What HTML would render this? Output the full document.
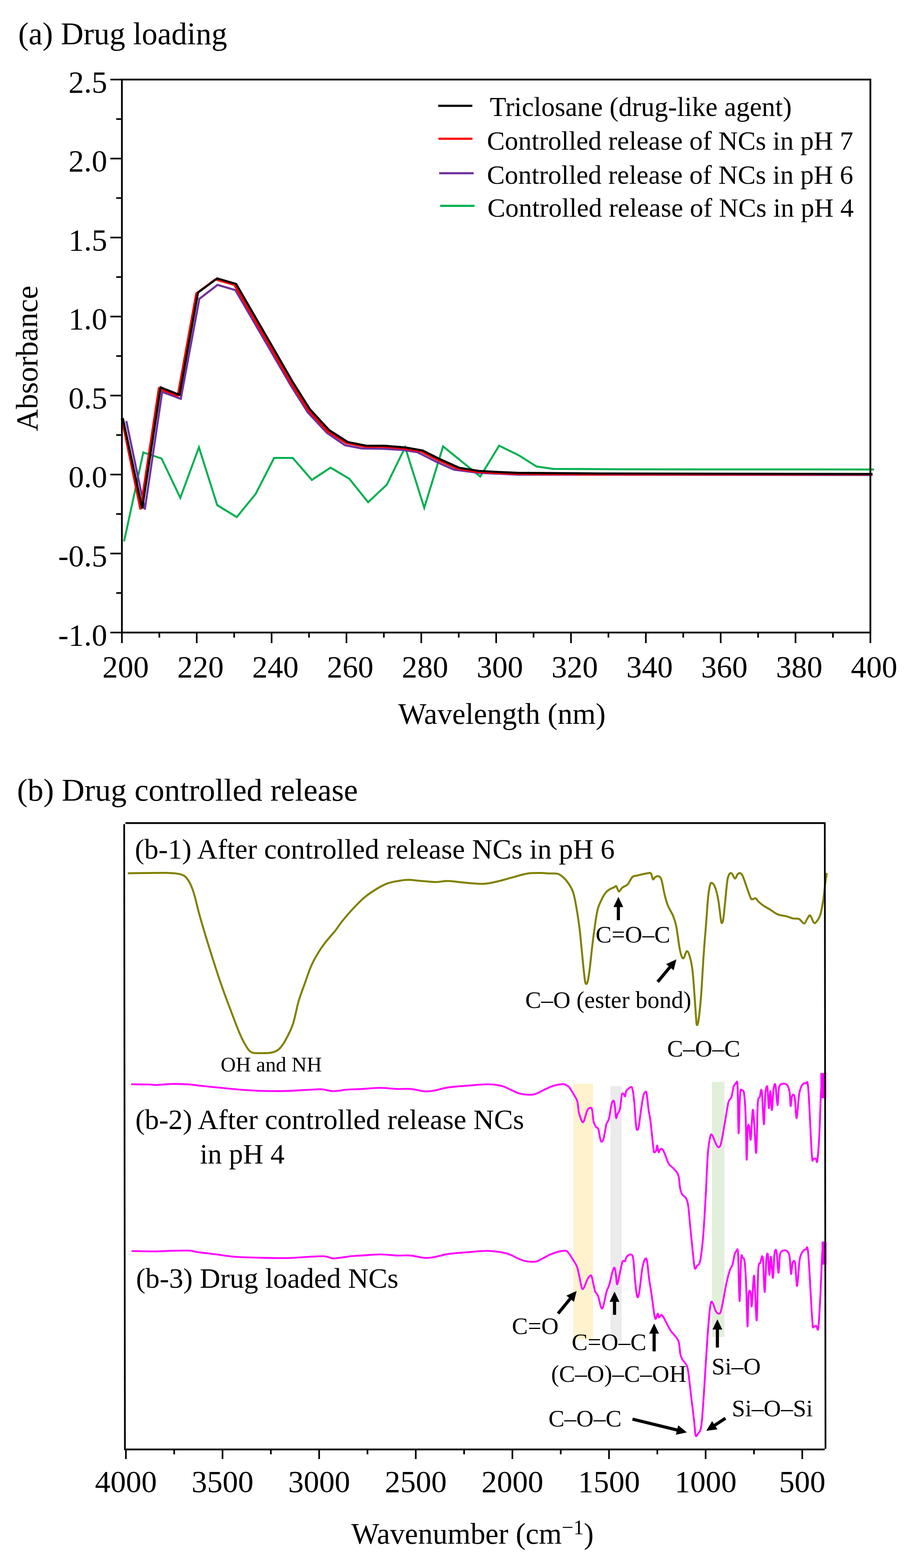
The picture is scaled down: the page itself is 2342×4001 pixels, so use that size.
<!DOCTYPE html><html><head><meta charset="utf-8"><style>html,body{margin:0;padding:0;background:#fff;}svg{display:block;}</style></head><body>
<svg width="2342" height="4001" viewBox="0 0 2342 4001" font-family="'Liberation Serif', 'Times New Roman', serif" fill="#000">
<rect width="2342" height="4001" fill="#fff"/>
<text x="46.4" y="113.0" font-size="80" text-anchor="start" >(a) Drug loading</text>
<polyline points="316.5,1381.5 365.6,1154.4 412.2,1170.0 460.0,1270.3 507.5,1141.5 554.2,1289.0 604.0,1319.5 652.5,1260.0 699.3,1168.6 746.8,1168.4 795.6,1224.6 843.2,1193.3 891.2,1221.7 939.2,1281.5 986.8,1236.8 1033.6,1141.2 1082.4,1295.8 1130.4,1139.0 1225.2,1216.0 1273.4,1137.2 1322.0,1161.0 1368.8,1190.3 1411.5,1196.4 1600.0,1197.5 2230.0,1198.0" fill="none" stroke="#00b050" stroke-width="5" stroke-linejoin="miter" />
<polyline points="322.2,1074.4 369.4,1300.0 413.7,1000.0 461.2,1017.6 508.5,762.6 555.0,727.0 600.5,740.3 742.0,984.0 785.0,1052.0 834.0,1104.6 880.0,1136.0 923.3,1144.3 975.5,1145.0 1026.2,1148.0 1064.9,1154.0 1115.8,1179.6 1158.1,1198.3 1221.6,1206.5 1320.0,1211.0 2226.0,1212.0" fill="none" stroke="#7030a0" stroke-width="5.3" stroke-linejoin="miter" />
<polyline points="310.6,1067.8 358.3,1300.0 405.2,991.0 453.3,1010.0 500.7,749.0 549.5,712.9 598.0,727.0 646.3,810.5 694.3,893.5 742.5,977.5 786.0,1046.5 835.3,1100.1 883.0,1130.5 929.2,1139.7 976.9,1139.9 1030.6,1144.3 1073.9,1152.0 1117.8,1174.0 1166.6,1196.0 1217.1,1204.1 1268.5,1207.0 1315.5,1209.0 1495.5,1210.5 2226.0,1210.5" fill="none" stroke="#ff0000" stroke-width="5.3" stroke-linejoin="miter" />
<polyline points="313.3,1066.7 362.8,1297.5 409.7,988.5 457.8,1007.5 505.2,746.5 554.0,710.4 602.5,724.5 650.8,808.0 698.8,891.0 747.0,975.0 790.5,1044.0 839.8,1097.6 887.5,1128.0 933.7,1137.2 981.4,1137.4 1035.1,1141.8 1078.4,1149.5 1122.3,1171.5 1171.1,1193.5 1221.6,1201.6 1273.0,1204.5 1320.0,1206.5 1500.0,1208.0 2226.0,1209.5" fill="none" stroke="#000000" stroke-width="5.3" stroke-linejoin="miter" />
<rect x="311" y="203" width="1909.5" height="1411" fill="none" stroke="#000" stroke-width="4.5"/>
<line x1="281.5" y1="203.0" x2="311.0" y2="203.0" stroke="#000" stroke-width="4.2" stroke-linecap="butt"/>
<text x="273.5" y="235.5" font-size="79" text-anchor="end" >2.5</text>
<line x1="296.5" y1="303.8" x2="311.0" y2="303.8" stroke="#000" stroke-width="4.2" stroke-linecap="butt"/>
<line x1="281.5" y1="404.6" x2="311.0" y2="404.6" stroke="#000" stroke-width="4.2" stroke-linecap="butt"/>
<text x="273.5" y="437.1" font-size="79" text-anchor="end" >2.0</text>
<line x1="296.5" y1="505.4" x2="311.0" y2="505.4" stroke="#000" stroke-width="4.2" stroke-linecap="butt"/>
<line x1="281.5" y1="606.1" x2="311.0" y2="606.1" stroke="#000" stroke-width="4.2" stroke-linecap="butt"/>
<text x="273.5" y="638.6" font-size="79" text-anchor="end" >1.5</text>
<line x1="296.5" y1="706.9" x2="311.0" y2="706.9" stroke="#000" stroke-width="4.2" stroke-linecap="butt"/>
<line x1="281.5" y1="807.7" x2="311.0" y2="807.7" stroke="#000" stroke-width="4.2" stroke-linecap="butt"/>
<text x="273.5" y="840.2" font-size="79" text-anchor="end" >1.0</text>
<line x1="296.5" y1="908.5" x2="311.0" y2="908.5" stroke="#000" stroke-width="4.2" stroke-linecap="butt"/>
<line x1="281.5" y1="1009.3" x2="311.0" y2="1009.3" stroke="#000" stroke-width="4.2" stroke-linecap="butt"/>
<text x="273.5" y="1041.8" font-size="79" text-anchor="end" >0.5</text>
<line x1="296.5" y1="1110.1" x2="311.0" y2="1110.1" stroke="#000" stroke-width="4.2" stroke-linecap="butt"/>
<line x1="281.5" y1="1210.9" x2="311.0" y2="1210.9" stroke="#000" stroke-width="4.2" stroke-linecap="butt"/>
<text x="273.5" y="1243.4" font-size="79" text-anchor="end" >0.0</text>
<line x1="296.5" y1="1311.6" x2="311.0" y2="1311.6" stroke="#000" stroke-width="4.2" stroke-linecap="butt"/>
<line x1="281.5" y1="1412.4" x2="311.0" y2="1412.4" stroke="#000" stroke-width="4.2" stroke-linecap="butt"/>
<text x="273.5" y="1444.9" font-size="79" text-anchor="end" >-0.5</text>
<line x1="296.5" y1="1513.2" x2="311.0" y2="1513.2" stroke="#000" stroke-width="4.2" stroke-linecap="butt"/>
<line x1="281.5" y1="1614.0" x2="311.0" y2="1614.0" stroke="#000" stroke-width="4.2" stroke-linecap="butt"/>
<text x="273.5" y="1646.5" font-size="79" text-anchor="end" >-1.0</text>
<line x1="311.0" y1="1614.0" x2="311.0" y2="1641.0" stroke="#000" stroke-width="4.2" stroke-linecap="butt"/>
<text x="320.5" y="1728.0" font-size="79" text-anchor="middle" >200</text>
<line x1="406.5" y1="1614.0" x2="406.5" y2="1627.0" stroke="#000" stroke-width="4.2" stroke-linecap="butt"/>
<line x1="501.9" y1="1614.0" x2="501.9" y2="1641.0" stroke="#000" stroke-width="4.2" stroke-linecap="butt"/>
<text x="511.4" y="1728.0" font-size="79" text-anchor="middle" >220</text>
<line x1="597.4" y1="1614.0" x2="597.4" y2="1627.0" stroke="#000" stroke-width="4.2" stroke-linecap="butt"/>
<line x1="692.9" y1="1614.0" x2="692.9" y2="1641.0" stroke="#000" stroke-width="4.2" stroke-linecap="butt"/>
<text x="702.4" y="1728.0" font-size="79" text-anchor="middle" >240</text>
<line x1="788.4" y1="1614.0" x2="788.4" y2="1627.0" stroke="#000" stroke-width="4.2" stroke-linecap="butt"/>
<line x1="883.9" y1="1614.0" x2="883.9" y2="1641.0" stroke="#000" stroke-width="4.2" stroke-linecap="butt"/>
<text x="893.4" y="1728.0" font-size="79" text-anchor="middle" >260</text>
<line x1="979.3" y1="1614.0" x2="979.3" y2="1627.0" stroke="#000" stroke-width="4.2" stroke-linecap="butt"/>
<line x1="1074.8" y1="1614.0" x2="1074.8" y2="1641.0" stroke="#000" stroke-width="4.2" stroke-linecap="butt"/>
<text x="1084.3" y="1728.0" font-size="79" text-anchor="middle" >280</text>
<line x1="1170.3" y1="1614.0" x2="1170.3" y2="1627.0" stroke="#000" stroke-width="4.2" stroke-linecap="butt"/>
<line x1="1265.8" y1="1614.0" x2="1265.8" y2="1641.0" stroke="#000" stroke-width="4.2" stroke-linecap="butt"/>
<text x="1275.2" y="1728.0" font-size="79" text-anchor="middle" >300</text>
<line x1="1361.2" y1="1614.0" x2="1361.2" y2="1627.0" stroke="#000" stroke-width="4.2" stroke-linecap="butt"/>
<line x1="1456.7" y1="1614.0" x2="1456.7" y2="1641.0" stroke="#000" stroke-width="4.2" stroke-linecap="butt"/>
<text x="1466.2" y="1728.0" font-size="79" text-anchor="middle" >320</text>
<line x1="1552.2" y1="1614.0" x2="1552.2" y2="1627.0" stroke="#000" stroke-width="4.2" stroke-linecap="butt"/>
<line x1="1647.7" y1="1614.0" x2="1647.7" y2="1641.0" stroke="#000" stroke-width="4.2" stroke-linecap="butt"/>
<text x="1657.2" y="1728.0" font-size="79" text-anchor="middle" >340</text>
<line x1="1743.1" y1="1614.0" x2="1743.1" y2="1627.0" stroke="#000" stroke-width="4.2" stroke-linecap="butt"/>
<line x1="1838.6" y1="1614.0" x2="1838.6" y2="1641.0" stroke="#000" stroke-width="4.2" stroke-linecap="butt"/>
<text x="1848.1" y="1728.0" font-size="79" text-anchor="middle" >360</text>
<line x1="1934.1" y1="1614.0" x2="1934.1" y2="1627.0" stroke="#000" stroke-width="4.2" stroke-linecap="butt"/>
<line x1="2029.5" y1="1614.0" x2="2029.5" y2="1641.0" stroke="#000" stroke-width="4.2" stroke-linecap="butt"/>
<text x="2039.0" y="1728.0" font-size="79" text-anchor="middle" >380</text>
<line x1="2125.0" y1="1614.0" x2="2125.0" y2="1627.0" stroke="#000" stroke-width="4.2" stroke-linecap="butt"/>
<line x1="2220.5" y1="1614.0" x2="2220.5" y2="1641.0" stroke="#000" stroke-width="4.2" stroke-linecap="butt"/>
<text x="2230.0" y="1728.0" font-size="79" text-anchor="middle" >400</text>
<text x="0.0" y="0.0" font-size="77.8" text-anchor="middle" transform="translate(95,914.5) rotate(-90)">Absorbance</text>
<text x="1280.6" y="1847.3" font-size="76.2" text-anchor="middle" >Wavelength (nm)</text>
<line x1="1118.0" y1="270.1" x2="1205.0" y2="270.1" stroke="#000000" stroke-width="5.5" stroke-linecap="butt"/>
<text x="1249.5" y="296.4" font-size="68.9" text-anchor="start" >Triclosane (drug-like agent)</text>
<line x1="1118.4" y1="353.9" x2="1205.2" y2="353.9" stroke="#ff0000" stroke-width="5.5" stroke-linecap="butt"/>
<text x="1242.2" y="381.9" font-size="68.4" text-anchor="start" >Controlled release of NCs in pH 7</text>
<line x1="1120.3" y1="442.0" x2="1208.5" y2="442.0" stroke="#7030a0" stroke-width="5.5" stroke-linecap="butt"/>
<text x="1242.2" y="469.2" font-size="68.4" text-anchor="start" >Controlled release of NCs in pH 6</text>
<line x1="1123.0" y1="525.3" x2="1210.6" y2="525.3" stroke="#00b050" stroke-width="5.5" stroke-linecap="butt"/>
<text x="1243.5" y="553.2" font-size="68.4" text-anchor="start" >Controlled release of NCs in pH 4</text>
<text x="43.6" y="2043.0" font-size="80.5" text-anchor="start" >(b) Drug controlled release</text>
<rect x="1462.5" y="2765.5" width="50.5" height="652" fill="#fff2cc"/>
<rect x="1557.5" y="2771.5" width="28.5" height="649.5" fill="#ebebeb"/>
<rect x="1816.5" y="2760.5" width="31.7" height="651" fill="#e2efda"/>
<path d="M326.1,2228.3 C341.8,2228.1 398.6,2227.1 420.0,2227.3 C441.4,2227.5 446.2,2228.2 454.6,2229.6 C463.1,2230.9 466.1,2232.1 470.7,2235.4 C475.3,2238.7 478.7,2243.4 482.2,2249.2 C485.7,2255.0 488.8,2262.7 491.5,2270.0 C494.2,2277.3 495.7,2283.0 498.4,2293.0 C501.1,2303.0 503.4,2314.5 507.6,2329.9 C511.8,2345.3 517.6,2364.8 523.7,2385.2 C529.9,2405.5 537.2,2429.3 544.5,2452.0 C551.8,2474.7 559.8,2499.3 567.5,2521.2 C575.2,2543.1 583.3,2564.2 590.6,2583.4 C597.9,2602.6 605.1,2622.3 611.3,2636.5 C617.4,2650.7 622.5,2660.6 627.5,2668.7 C632.5,2676.8 635.5,2681.8 641.3,2684.9 C647.0,2688.0 653.5,2687.0 662.0,2687.2 C670.5,2687.4 683.9,2687.5 692.0,2686.0 C700.1,2684.5 704.7,2682.8 710.5,2678.0 C716.3,2673.2 720.5,2668.0 726.6,2657.2 C732.7,2646.4 741.5,2630.4 747.3,2613.4 C753.1,2596.4 756.3,2573.4 761.6,2555.4 C766.9,2537.4 773.6,2520.8 779.0,2505.6 C784.4,2490.4 788.7,2476.6 794.1,2464.3 C799.5,2452.0 805.4,2441.9 811.5,2431.8 C817.6,2421.7 823.8,2413.0 831.0,2403.6 C838.2,2394.2 848.0,2384.1 854.9,2375.4 C861.8,2366.7 865.1,2360.6 872.3,2351.5 C879.5,2342.4 888.9,2331.2 898.3,2321.1 C907.7,2311.0 918.2,2299.7 928.7,2290.8 C939.2,2282.0 951.1,2274.2 961.2,2268.0 C971.3,2261.8 980.1,2257.3 989.4,2253.9 C998.7,2250.5 1008.4,2249.2 1017.1,2247.7 C1025.8,2246.2 1032.1,2245.0 1041.4,2245.0 C1050.7,2245.0 1061.5,2246.8 1073.0,2247.7 C1084.5,2248.6 1098.5,2250.6 1110.3,2250.7 C1122.1,2250.8 1130.9,2247.7 1143.9,2248.0 C1157.0,2248.3 1173.7,2251.3 1188.6,2252.5 C1203.5,2253.7 1219.7,2255.8 1233.4,2255.2 C1247.1,2254.6 1258.3,2251.6 1270.7,2248.8 C1283.1,2246.1 1295.6,2242.0 1308.0,2238.7 C1320.4,2235.4 1333.5,2230.8 1345.3,2229.0 C1357.1,2227.2 1369.7,2227.6 1378.8,2227.6 C1387.9,2227.6 1392.8,2228.5 1400.0,2228.8 C1407.2,2229.1 1415.8,2228.0 1421.7,2229.4 C1427.6,2230.8 1430.3,2232.6 1435.3,2237.0 C1440.3,2241.4 1447.0,2249.2 1451.5,2256.0 C1456.0,2262.8 1459.2,2267.7 1462.4,2277.6 C1465.6,2287.5 1467.8,2300.2 1470.5,2315.6 C1473.2,2331.0 1476.3,2351.7 1478.6,2369.8 C1480.9,2387.9 1482.3,2405.9 1484.1,2424.0 C1485.9,2442.1 1487.9,2464.3 1489.5,2478.3 C1491.1,2492.3 1492.0,2503.6 1493.6,2508.1 C1495.2,2512.6 1497.2,2511.3 1499.0,2505.4 C1500.8,2499.5 1502.6,2486.5 1504.4,2472.9 C1506.2,2459.3 1507.8,2441.2 1509.8,2424.0 C1511.8,2406.8 1514.1,2387.0 1516.6,2369.8 C1519.1,2352.6 1521.5,2333.7 1524.7,2321.0 C1527.9,2308.3 1532.0,2301.3 1535.6,2293.9 C1539.2,2286.5 1542.8,2280.6 1546.4,2276.3 C1550.0,2272.0 1553.9,2270.2 1557.3,2268.1 C1560.7,2266.0 1564.3,2265.1 1566.8,2264.0 C1569.3,2262.9 1570.2,2259.6 1572.2,2261.4 C1574.2,2263.2 1576.5,2274.2 1579.0,2274.9 C1581.5,2275.6 1583.5,2268.3 1587.1,2265.4 C1590.7,2262.5 1597.5,2260.0 1600.7,2257.3 C1603.9,2254.6 1603.8,2252.6 1606.1,2249.2 C1608.3,2245.8 1611.0,2239.5 1614.2,2237.0 C1617.4,2234.5 1621.5,2235.1 1625.1,2234.2 C1628.7,2233.3 1631.8,2232.4 1635.9,2231.5 C1640.0,2230.6 1645.4,2229.3 1649.5,2228.8 C1653.6,2228.3 1657.6,2225.8 1660.3,2228.3 C1663.0,2230.8 1664.0,2242.0 1665.8,2243.7 C1667.6,2245.4 1669.0,2239.7 1671.2,2238.3 C1673.5,2237.0 1676.6,2234.5 1679.3,2235.6 C1682.0,2236.7 1684.8,2237.2 1687.5,2245.1 C1690.2,2253.0 1692.9,2272.2 1695.6,2283.0 C1698.3,2293.8 1700.1,2301.1 1703.7,2310.2 C1707.3,2319.2 1713.7,2328.3 1717.3,2337.3 C1720.9,2346.3 1722.7,2350.9 1725.4,2364.4 C1728.1,2377.9 1731.3,2405.9 1733.6,2418.6 C1735.9,2431.2 1737.2,2436.0 1739.0,2440.3 C1740.8,2444.6 1742.2,2446.6 1744.4,2444.4 C1746.7,2442.2 1749.8,2427.3 1752.5,2427.0 C1755.2,2426.7 1757.9,2434.6 1760.3,2442.8 C1762.7,2451.0 1764.8,2460.0 1766.7,2476.3 C1768.6,2492.6 1770.4,2520.5 1771.9,2540.7 C1773.4,2560.9 1774.8,2584.9 1775.8,2597.4 C1776.8,2609.9 1776.7,2614.6 1777.8,2615.4 C1778.9,2616.2 1780.4,2614.9 1782.2,2602.5 C1784.0,2590.1 1786.4,2568.2 1788.6,2540.7 C1790.8,2513.2 1792.9,2468.5 1795.1,2437.6 C1797.2,2406.7 1799.6,2380.1 1801.5,2355.2 C1803.4,2330.3 1805.0,2304.5 1806.7,2288.2 C1808.4,2271.9 1810.1,2263.1 1811.8,2257.3 C1813.5,2251.5 1814.8,2252.1 1817.0,2253.4 C1819.2,2254.7 1822.1,2257.9 1824.7,2265.0 C1827.3,2272.1 1830.0,2282.6 1832.4,2295.9 C1834.8,2309.2 1837.4,2335.0 1838.9,2344.9 C1840.4,2354.8 1840.4,2355.2 1841.5,2355.2 C1842.6,2355.2 1843.8,2354.8 1845.3,2344.9 C1846.8,2335.0 1848.8,2312.2 1850.5,2295.9 C1852.2,2279.6 1853.9,2257.9 1855.6,2247.0 C1857.3,2236.1 1858.9,2233.2 1860.8,2230.2 C1862.7,2227.2 1864.8,2227.1 1867.2,2229.0 C1869.6,2230.9 1872.6,2241.4 1875.0,2241.8 C1877.4,2242.2 1879.5,2233.8 1881.4,2231.5 C1883.3,2229.2 1884.3,2227.3 1886.5,2227.7 C1888.7,2228.1 1891.3,2228.3 1894.3,2234.1 C1897.3,2239.9 1901.2,2252.9 1904.6,2262.4 C1908.0,2271.9 1912.3,2285.4 1914.9,2290.8 C1917.5,2296.2 1917.8,2294.4 1920.0,2294.6 C1922.2,2294.8 1925.2,2291.0 1927.8,2292.1 C1930.4,2293.2 1932.1,2297.8 1935.5,2301.0 C1938.9,2304.2 1943.7,2308.2 1948.4,2311.4 C1953.1,2314.6 1957.8,2316.8 1963.8,2320.4 C1969.8,2324.1 1977.1,2330.3 1984.4,2333.3 C1991.7,2336.3 2001.1,2336.7 2007.6,2338.4 C2014.0,2340.1 2017.9,2342.5 2023.1,2343.6 C2028.2,2344.7 2033.8,2342.8 2038.5,2344.9 C2043.2,2347.1 2048.0,2356.5 2051.4,2356.5 C2054.8,2356.5 2056.6,2348.3 2059.2,2344.9 C2061.8,2341.5 2064.1,2334.4 2066.9,2335.9 C2069.7,2337.4 2073.3,2351.1 2075.9,2353.9 C2078.5,2356.7 2079.5,2355.8 2082.3,2352.6 C2085.1,2349.4 2089.6,2344.0 2092.6,2334.6 C2095.6,2325.2 2098.2,2309.7 2100.4,2295.9 C2102.6,2282.2 2104.0,2263.5 2105.5,2252.1 C2107.0,2240.7 2108.8,2231.8 2109.4,2227.7" fill="none" stroke="#808000" stroke-width="5" stroke-linejoin="round" />
<path d="M334.6,2766.8 C342.4,2766.9 370.9,2767.0 381.4,2767.3 C391.9,2767.6 388.8,2768.7 397.6,2768.5 C406.4,2768.3 420.6,2766.3 434.2,2766.0 C447.8,2765.7 466.1,2766.1 479.0,2766.8 C491.9,2767.6 497.3,2769.0 511.5,2770.5 C525.7,2772.0 546.8,2774.1 564.4,2775.8 C582.0,2777.5 600.3,2779.4 617.3,2780.7 C634.2,2782.0 647.8,2783.0 666.1,2783.5 C684.4,2784.0 706.8,2784.4 727.1,2783.9 C747.4,2783.4 772.5,2781.4 788.1,2780.7 C803.7,2780.0 810.9,2778.9 820.7,2779.5 C830.5,2780.1 839.0,2783.5 847.1,2784.0 C855.2,2784.5 864.0,2783.2 869.5,2782.7 C875.0,2782.1 870.8,2781.4 880.0,2780.7 C889.2,2780.0 909.8,2779.4 924.7,2778.6 C939.6,2777.8 955.2,2775.8 969.5,2775.8 C983.8,2775.8 997.3,2778.1 1010.2,2778.6 C1023.1,2779.1 1034.6,2777.6 1046.8,2778.6 C1059.0,2779.6 1073.2,2784.0 1083.4,2784.7 C1093.6,2785.4 1097.6,2784.4 1107.8,2782.7 C1118.0,2781.0 1130.8,2776.6 1144.4,2774.6 C1158.0,2772.6 1172.9,2771.8 1189.2,2770.5 C1205.5,2769.2 1227.1,2766.8 1242.0,2766.8 C1256.9,2766.8 1268.4,2768.2 1278.6,2770.5 C1288.8,2772.8 1294.8,2777.3 1303.0,2780.7 C1311.2,2784.1 1318.0,2788.8 1327.5,2790.8 C1337.0,2792.8 1350.5,2794.2 1360.0,2792.9 C1369.5,2791.6 1376.3,2786.2 1384.4,2782.7 C1392.5,2779.2 1400.3,2774.4 1408.8,2771.7 C1417.3,2769.0 1428.8,2766.6 1435.3,2766.4 C1441.8,2766.2 1444.7,2769.2 1447.5,2770.5 C1450.3,2771.8 1449.4,2770.3 1452.2,2774.2 C1455.0,2778.1 1460.9,2787.6 1464.4,2793.7 C1467.9,2799.8 1471.0,2803.5 1473.0,2810.8 C1475.0,2818.1 1475.0,2829.9 1476.6,2837.6 C1478.2,2845.3 1481.1,2852.9 1482.7,2857.2 C1484.3,2861.5 1485.2,2862.9 1486.4,2863.3 C1487.6,2863.7 1488.0,2864.7 1490.0,2859.6 C1492.0,2854.5 1495.8,2838.2 1498.6,2832.7 C1501.4,2827.2 1505.1,2826.6 1507.1,2826.6 C1509.1,2826.6 1509.6,2826.8 1510.8,2832.7 C1512.0,2838.6 1512.8,2854.9 1514.4,2862.0 C1516.0,2869.1 1518.5,2872.2 1520.5,2875.5 C1522.5,2878.8 1524.6,2875.7 1526.6,2881.6 C1528.6,2887.5 1530.7,2906.4 1532.7,2910.9 C1534.8,2915.4 1536.9,2913.7 1538.9,2908.4 C1541.0,2903.1 1543.6,2886.0 1545.0,2879.1 C1546.4,2872.2 1546.0,2871.0 1547.4,2866.9 C1548.8,2862.8 1551.5,2862.4 1553.5,2854.7 C1555.5,2847.0 1557.8,2828.2 1559.6,2820.5 C1561.4,2812.8 1563.1,2808.7 1564.5,2808.3 C1565.9,2807.9 1566.9,2810.8 1568.1,2818.1 C1569.3,2825.4 1570.6,2848.2 1571.8,2852.3 C1573.0,2856.4 1573.9,2846.2 1575.5,2842.5 C1577.1,2838.8 1579.8,2838.4 1581.6,2830.3 C1583.4,2822.2 1584.8,2800.2 1586.4,2793.7 C1588.0,2787.2 1589.9,2790.7 1591.3,2791.3 C1592.7,2791.9 1594.0,2798.6 1595.0,2797.4 C1596.0,2796.2 1596.2,2787.0 1597.4,2783.9 C1598.6,2780.8 1600.5,2780.6 1602.3,2779.0 C1604.1,2777.4 1606.6,2774.4 1608.4,2774.2 C1610.2,2774.0 1611.7,2771.3 1613.3,2777.8 C1614.9,2784.3 1616.8,2799.2 1618.2,2813.2 C1619.6,2827.2 1620.8,2850.6 1621.8,2862.0 C1622.8,2873.4 1623.1,2879.2 1624.3,2881.6 C1625.5,2884.0 1627.4,2884.8 1629.2,2876.7 C1631.0,2868.5 1633.3,2846.1 1635.3,2832.7 C1637.3,2819.3 1639.6,2803.8 1641.4,2796.1 C1643.2,2788.4 1644.8,2787.2 1646.2,2786.4 C1647.6,2785.6 1648.5,2783.6 1649.9,2791.3 C1651.3,2799.0 1653.2,2820.9 1654.8,2832.7 C1656.4,2844.5 1657.7,2845.7 1659.7,2862.0 C1661.7,2878.3 1665.4,2917.4 1667.0,2930.4 C1668.6,2943.4 1668.2,2939.3 1669.4,2940.1 C1670.6,2940.9 1673.1,2938.2 1674.3,2935.3 C1675.5,2932.5 1675.8,2922.2 1676.8,2923.0 C1677.8,2923.8 1679.2,2938.5 1680.4,2940.1 C1681.6,2941.7 1682.5,2934.0 1684.1,2932.8 C1685.7,2931.6 1688.2,2930.8 1690.2,2932.8 C1692.2,2934.8 1693.7,2938.9 1696.3,2945.0 C1698.9,2951.1 1702.3,2963.3 1706.0,2969.4 C1709.7,2975.5 1714.2,2976.7 1718.3,2981.6 C1722.4,2986.5 1727.7,2990.1 1730.5,2998.7 C1733.3,3007.2 1733.7,3024.8 1735.3,3032.9 C1736.9,3041.0 1737.8,3043.4 1740.2,3047.5 C1742.7,3051.6 1747.5,3052.7 1750.0,3057.3 C1752.5,3061.9 1753.7,3063.5 1755.5,3075.0 C1757.3,3086.5 1758.9,3109.2 1760.6,3126.4 C1762.3,3143.6 1763.9,3160.0 1765.8,3178.0 C1767.7,3196.0 1770.1,3226.0 1772.2,3234.6 C1774.3,3243.2 1776.2,3232.5 1778.6,3229.5 C1781.0,3226.5 1783.8,3229.5 1786.4,3216.6 C1789.0,3203.7 1791.8,3180.1 1794.1,3152.2 C1796.4,3124.3 1798.6,3083.5 1800.5,3049.2 C1802.4,3014.8 1803.8,2971.0 1805.7,2946.1 C1807.6,2921.2 1810.2,2907.8 1812.1,2899.7 C1814.0,2891.5 1815.1,2894.6 1817.3,2897.2 C1819.5,2899.8 1822.6,2910.3 1825.0,2915.2 C1827.4,2920.1 1829.3,2925.5 1831.5,2926.8 C1833.7,2928.1 1836.0,2927.4 1837.9,2922.9 C1839.8,2918.4 1840.9,2910.9 1843.1,2899.7 C1845.2,2888.5 1848.2,2870.5 1850.8,2855.9 C1853.4,2841.3 1855.9,2821.5 1858.5,2812.1 C1861.1,2802.7 1864.0,2805.7 1866.2,2799.3 C1868.4,2792.9 1869.7,2779.1 1871.4,2773.5 C1873.1,2767.9 1874.8,2766.2 1876.5,2765.8 C1878.2,2765.4 1880.4,2749.9 1881.7,2770.9 C1883.0,2791.9 1883.2,2888.6 1884.3,2892.0 C1885.4,2895.4 1886.6,2809.8 1888.1,2791.5 C1889.6,2773.2 1891.6,2782.5 1893.3,2782.5 C1895.0,2782.5 1896.9,2780.6 1898.4,2791.5 C1899.9,2802.4 1901.2,2820.3 1902.3,2848.2 C1903.4,2876.1 1904.0,2953.8 1904.9,2959.0 C1905.8,2964.2 1906.4,2893.3 1907.5,2879.1 C1908.6,2864.9 1910.0,2869.3 1911.3,2874.0 C1912.6,2878.7 1913.7,2914.4 1915.2,2907.5 C1916.7,2900.6 1918.8,2839.1 1920.3,2832.7 C1921.8,2826.2 1922.7,2850.8 1924.2,2868.8 C1925.7,2886.9 1927.9,2949.6 1929.4,2941.0 C1930.9,2932.4 1931.7,2840.9 1933.2,2817.3 C1934.7,2793.7 1936.7,2804.9 1938.4,2799.3 C1940.1,2793.7 1941.8,2772.2 1943.5,2783.8 C1945.2,2795.4 1947.2,2867.5 1948.7,2868.8 C1950.2,2870.1 1951.0,2807.4 1952.5,2791.5 C1954.0,2775.6 1956.2,2767.5 1957.7,2773.5 C1959.2,2779.5 1960.3,2825.9 1961.6,2827.6 C1962.9,2829.3 1964.1,2783.0 1965.4,2783.8 C1966.7,2784.7 1968.0,2833.1 1969.3,2832.7 C1970.6,2832.3 1971.7,2791.9 1973.2,2781.2 C1974.7,2770.5 1976.6,2761.9 1978.3,2768.3 C1980.0,2774.8 1982.0,2818.6 1983.5,2819.9 C1985.0,2821.2 1985.4,2785.1 1987.3,2776.1 C1989.2,2767.1 1991.7,2767.1 1995.1,2765.8 C1998.5,2764.5 2004.7,2764.9 2007.9,2768.3 C2011.1,2771.7 2012.9,2777.4 2014.4,2786.4 C2015.9,2795.4 2015.9,2820.7 2017.0,2822.4 C2018.1,2824.1 2019.1,2800.5 2020.8,2796.7 C2022.5,2792.8 2025.4,2789.9 2027.3,2799.3 C2029.2,2808.8 2030.5,2854.7 2032.4,2853.4 C2034.3,2852.1 2036.5,2805.7 2038.9,2791.5 C2041.3,2777.3 2043.8,2772.8 2046.6,2768.3 C2049.4,2763.8 2053.0,2762.8 2055.6,2764.5 C2058.2,2766.2 2059.5,2748.3 2062.1,2778.6 C2064.7,2808.9 2069.0,2916.5 2071.1,2946.1 C2073.2,2975.7 2073.2,2954.7 2074.9,2956.4 C2076.6,2958.1 2079.7,2955.5 2081.4,2956.4 C2083.1,2957.3 2083.7,2971.9 2085.2,2961.6 C2086.7,2951.3 2088.9,2922.9 2090.4,2894.6 C2091.9,2866.2 2092.9,2816.4 2094.2,2791.5 C2095.5,2766.6 2097.4,2752.9 2098.1,2745.2" fill="none" stroke="#ff00ff" stroke-width="4.6" stroke-linejoin="round" />
<path d="M335.8,3192.3 C346.1,3192.4 380.5,3193.2 397.6,3193.1 C414.7,3193.0 424.1,3191.8 438.3,3191.5 C452.5,3191.2 472.1,3190.6 483.0,3191.1 C493.9,3191.6 491.9,3193.1 503.4,3194.7 C514.9,3196.3 535.9,3198.8 552.2,3200.8 C568.5,3202.9 582.0,3205.6 601.0,3207.0 C620.0,3208.4 644.4,3208.9 666.1,3209.4 C687.8,3209.9 710.9,3210.6 731.2,3210.2 C751.5,3209.8 771.8,3207.8 788.1,3207.0 C804.4,3206.2 818.6,3205.0 828.8,3205.7 C839.0,3206.4 842.4,3210.4 849.2,3211.0 C856.0,3211.6 861.0,3210.0 869.5,3209.0 C878.0,3208.0 890.8,3205.9 900.0,3205.0 C909.2,3204.1 913.1,3204.3 924.7,3203.6 C936.3,3202.9 955.2,3200.8 969.5,3200.8 C983.8,3200.8 997.3,3203.1 1010.2,3203.6 C1023.1,3204.1 1034.6,3202.6 1046.8,3203.6 C1059.0,3204.6 1073.2,3209.0 1083.4,3209.7 C1093.6,3210.4 1097.6,3209.4 1107.8,3207.7 C1118.0,3206.0 1130.8,3201.6 1144.4,3199.6 C1158.0,3197.6 1172.9,3196.8 1189.2,3195.5 C1205.5,3194.2 1227.1,3191.8 1242.0,3191.8 C1256.9,3191.8 1268.9,3194.0 1278.6,3195.5 C1288.3,3197.0 1290.8,3197.4 1300.0,3200.8 C1309.2,3204.2 1323.2,3213.0 1333.9,3216.1 C1344.6,3219.2 1355.9,3220.3 1364.4,3219.5 C1372.9,3218.7 1377.4,3214.4 1384.7,3211.0 C1392.0,3207.6 1399.5,3202.5 1408.5,3199.2 C1417.5,3195.9 1432.2,3192.0 1439.0,3191.4 C1445.8,3190.8 1444.7,3190.8 1449.2,3195.8 C1453.7,3200.8 1462.1,3214.7 1466.1,3221.2 C1470.0,3227.7 1470.6,3227.3 1472.9,3234.7 C1475.2,3242.0 1477.7,3256.5 1479.7,3265.3 C1481.7,3274.1 1483.0,3283.9 1484.7,3287.3 C1486.4,3290.7 1487.2,3289.8 1489.8,3285.6 C1492.3,3281.4 1496.9,3267.0 1500.0,3261.9 C1503.1,3256.8 1506.2,3252.8 1508.5,3255.1 C1510.8,3257.3 1511.9,3268.6 1513.6,3275.4 C1515.3,3282.2 1516.6,3290.7 1518.6,3295.8 C1520.6,3300.9 1522.9,3299.1 1525.4,3305.9 C1528.0,3312.7 1531.6,3331.9 1533.9,3336.4 C1536.2,3340.9 1536.7,3339.8 1539.0,3333.0 C1541.3,3326.2 1545.0,3304.8 1547.5,3295.8 C1550.0,3286.8 1551.7,3287.3 1554.2,3278.8 C1556.7,3270.3 1560.4,3252.2 1562.7,3244.9 C1565.0,3237.6 1566.4,3233.6 1567.8,3234.7 C1569.2,3235.8 1570.1,3244.6 1571.2,3251.7 C1572.3,3258.8 1572.9,3277.7 1574.6,3277.1 C1576.3,3276.5 1579.2,3257.9 1581.4,3248.3 C1583.7,3238.7 1585.8,3224.6 1588.1,3219.5 C1590.3,3214.4 1593.2,3219.8 1594.9,3217.8 C1596.6,3215.8 1596.0,3210.4 1598.3,3207.6 C1600.6,3204.8 1605.7,3200.2 1608.5,3200.8 C1611.3,3201.4 1613.3,3199.7 1615.3,3211.0 C1617.3,3222.3 1618.6,3252.5 1620.3,3268.6 C1622.0,3284.7 1623.7,3302.5 1625.4,3307.6 C1627.1,3312.7 1628.2,3311.3 1630.5,3299.2 C1632.8,3287.0 1636.5,3249.1 1639.0,3234.7 C1641.5,3220.3 1643.8,3215.5 1645.8,3212.7 C1647.8,3209.9 1649.1,3209.6 1650.8,3217.8 C1652.5,3226.0 1653.9,3247.2 1655.9,3261.9 C1657.9,3276.6 1660.2,3289.0 1662.7,3305.9 C1665.2,3322.8 1668.7,3356.0 1671.2,3363.6 C1673.8,3371.2 1676.3,3352.0 1678.0,3351.7 C1679.7,3351.4 1679.4,3361.1 1681.4,3361.9 C1683.4,3362.8 1685.0,3351.4 1689.8,3356.8 C1694.6,3362.2 1703.4,3383.4 1710.2,3394.1 C1717.0,3404.8 1726.3,3411.0 1730.5,3421.2 C1734.7,3431.4 1733.9,3447.2 1735.6,3455.1 C1737.3,3463.0 1738.2,3464.1 1740.7,3468.6 C1743.2,3473.1 1748.3,3477.3 1750.8,3482.2 C1753.3,3487.1 1753.4,3484.5 1755.5,3497.8 C1757.6,3511.1 1760.6,3540.7 1763.2,3562.2 C1765.8,3583.7 1769.0,3609.8 1770.9,3626.6 C1772.8,3643.3 1773.1,3657.5 1774.8,3662.7 C1776.5,3667.8 1778.8,3661.4 1781.2,3657.5 C1783.6,3653.6 1786.6,3655.4 1789.0,3639.5 C1791.4,3623.6 1793.3,3592.2 1795.4,3562.2 C1797.5,3532.1 1799.7,3491.4 1801.8,3459.2 C1803.9,3427.0 1806.4,3391.3 1808.3,3369.0 C1810.2,3346.7 1811.7,3332.5 1813.4,3325.2 C1815.1,3317.9 1816.4,3321.8 1818.6,3325.2 C1820.8,3328.6 1823.7,3341.3 1826.3,3345.8 C1828.9,3350.3 1831.8,3352.2 1834.0,3352.2 C1836.2,3352.2 1837.3,3352.0 1839.2,3345.8 C1841.1,3339.6 1843.2,3326.9 1845.6,3314.9 C1848.0,3302.9 1850.6,3286.1 1853.4,3273.7 C1856.2,3261.2 1859.8,3247.9 1862.4,3240.2 C1865.0,3232.5 1866.9,3233.8 1868.8,3227.3 C1870.7,3220.9 1872.3,3207.3 1874.0,3201.5 C1875.7,3195.7 1877.6,3192.9 1879.1,3192.5 C1880.6,3192.1 1881.7,3177.8 1883.0,3199.0 C1884.3,3220.2 1885.5,3317.9 1886.8,3320.0 C1888.1,3322.1 1889.4,3230.2 1890.7,3211.8 C1892.0,3193.4 1893.1,3208.0 1894.6,3209.3 C1896.1,3210.6 1898.2,3208.0 1899.7,3219.6 C1901.2,3231.2 1902.4,3251.3 1903.6,3278.8 C1904.8,3306.3 1905.9,3380.5 1907.0,3384.4 C1908.1,3388.3 1908.6,3316.2 1910.0,3302.0 C1911.4,3287.8 1913.9,3294.2 1915.2,3299.4 C1916.5,3304.6 1916.5,3339.8 1917.8,3332.9 C1919.1,3326.0 1921.6,3267.2 1922.9,3258.2 C1924.2,3249.2 1924.2,3260.3 1925.5,3278.8 C1926.8,3297.3 1929.1,3375.4 1930.6,3369.0 C1932.1,3362.6 1933.0,3264.7 1934.5,3240.2 C1936.0,3215.7 1937.8,3227.2 1939.7,3222.1 C1941.6,3216.9 1944.3,3196.9 1946.1,3209.3 C1947.9,3221.8 1949.2,3296.0 1950.7,3296.8 C1952.2,3297.7 1953.7,3230.3 1955.1,3214.4 C1956.5,3198.5 1957.7,3195.1 1959.0,3201.5 C1960.3,3207.9 1961.5,3252.1 1962.8,3253.0 C1964.1,3253.9 1965.2,3205.4 1966.7,3206.7 C1968.2,3208.0 1970.4,3261.7 1971.9,3260.8 C1973.4,3259.9 1974.2,3212.9 1975.7,3201.5 C1977.2,3190.1 1979.2,3184.8 1980.9,3192.5 C1982.6,3200.2 1984.5,3246.4 1986.0,3247.9 C1987.5,3249.4 1988.0,3210.9 1989.9,3201.5 C1991.8,3192.1 1994.6,3192.7 1997.6,3191.2 C2000.6,3189.7 2005.1,3189.9 2007.9,3192.5 C2010.7,3195.1 2012.7,3197.0 2014.4,3206.7 C2016.1,3216.4 2016.9,3247.9 2018.2,3250.5 C2019.5,3253.1 2020.4,3226.6 2022.1,3222.1 C2023.8,3217.6 2026.6,3213.5 2028.5,3223.4 C2030.4,3233.3 2031.8,3282.9 2033.7,3281.4 C2035.6,3279.9 2037.7,3229.0 2040.1,3214.4 C2042.5,3199.8 2045.3,3198.1 2047.9,3193.8 C2050.5,3189.5 2053.2,3187.7 2055.6,3188.6 C2057.9,3189.5 2059.2,3168.9 2062.0,3199.0 C2064.8,3229.1 2069.9,3338.1 2072.3,3369.0 C2074.7,3399.9 2074.5,3382.1 2076.2,3384.4 C2077.9,3386.8 2080.7,3382.4 2082.6,3383.1 C2084.5,3383.8 2086.1,3401.4 2087.8,3388.3 C2089.5,3375.2 2091.5,3333.6 2093.0,3304.6 C2094.5,3275.6 2095.7,3236.7 2096.8,3214.4 C2097.9,3192.1 2099.0,3177.9 2099.4,3170.6" fill="none" stroke="#ff00ff" stroke-width="4.6" stroke-linejoin="round" />
<rect x="2093" y="2738" width="15" height="64" fill="#ff00ff"/>
<rect x="2096" y="3168" width="12.5" height="59" fill="#ff00ff"/>
<line x1="320.0" y1="2100.3" x2="2106.0" y2="2100.3" stroke="#000" stroke-width="4.4" stroke-linecap="butt"/>
<line x1="316.8" y1="2103.0" x2="318.7" y2="3700.5" stroke="#000" stroke-width="4.4" stroke-linecap="butt"/>
<line x1="2104.2" y1="2098.2" x2="2106.0" y2="3697.0" stroke="#000" stroke-width="4.4" stroke-linecap="butt"/>
<line x1="320.5" y1="3698.5" x2="2104.0" y2="3698.5" stroke="#000" stroke-width="4.4" stroke-linecap="butt"/>
<line x1="321.2" y1="3698.0" x2="321.2" y2="3723.0" stroke="#000" stroke-width="4.2" stroke-linecap="butt"/>
<text x="321.2" y="3806.6" font-size="79" text-anchor="middle" >4000</text>
<line x1="444.4" y1="3698.0" x2="444.4" y2="3711.0" stroke="#000" stroke-width="4.2" stroke-linecap="butt"/>
<line x1="567.7" y1="3698.0" x2="567.7" y2="3723.0" stroke="#000" stroke-width="4.2" stroke-linecap="butt"/>
<text x="567.7" y="3806.6" font-size="79" text-anchor="middle" >3500</text>
<line x1="691.0" y1="3698.0" x2="691.0" y2="3711.0" stroke="#000" stroke-width="4.2" stroke-linecap="butt"/>
<line x1="814.2" y1="3698.0" x2="814.2" y2="3723.0" stroke="#000" stroke-width="4.2" stroke-linecap="butt"/>
<text x="814.2" y="3806.6" font-size="79" text-anchor="middle" >3000</text>
<line x1="937.5" y1="3698.0" x2="937.5" y2="3711.0" stroke="#000" stroke-width="4.2" stroke-linecap="butt"/>
<line x1="1060.7" y1="3698.0" x2="1060.7" y2="3723.0" stroke="#000" stroke-width="4.2" stroke-linecap="butt"/>
<text x="1060.7" y="3806.6" font-size="79" text-anchor="middle" >2500</text>
<line x1="1184.0" y1="3698.0" x2="1184.0" y2="3711.0" stroke="#000" stroke-width="4.2" stroke-linecap="butt"/>
<line x1="1307.2" y1="3698.0" x2="1307.2" y2="3723.0" stroke="#000" stroke-width="4.2" stroke-linecap="butt"/>
<text x="1307.2" y="3806.6" font-size="79" text-anchor="middle" >2000</text>
<line x1="1430.5" y1="3698.0" x2="1430.5" y2="3711.0" stroke="#000" stroke-width="4.2" stroke-linecap="butt"/>
<line x1="1553.7" y1="3698.0" x2="1553.7" y2="3723.0" stroke="#000" stroke-width="4.2" stroke-linecap="butt"/>
<text x="1553.7" y="3806.6" font-size="79" text-anchor="middle" >1500</text>
<line x1="1677.0" y1="3698.0" x2="1677.0" y2="3711.0" stroke="#000" stroke-width="4.2" stroke-linecap="butt"/>
<line x1="1800.2" y1="3698.0" x2="1800.2" y2="3723.0" stroke="#000" stroke-width="4.2" stroke-linecap="butt"/>
<text x="1800.2" y="3806.6" font-size="79" text-anchor="middle" >1000</text>
<line x1="1923.5" y1="3698.0" x2="1923.5" y2="3711.0" stroke="#000" stroke-width="4.2" stroke-linecap="butt"/>
<line x1="2046.7" y1="3698.0" x2="2046.7" y2="3723.0" stroke="#000" stroke-width="4.2" stroke-linecap="butt"/>
<text x="2046.7" y="3806.6" font-size="79" text-anchor="middle" >500</text>
<text x="1205.5" y="3938.6" font-size="75.5" text-anchor="middle">Wavenumber (cm<tspan font-size="53" dy="-24">&#8722;1</tspan><tspan dy="24">)</tspan></text>
<text x="344.0" y="2190.6" font-size="72.4" text-anchor="start" >(b-1) After controlled release NCs in pH 6</text>
<text x="345.2" y="2881.0" font-size="72.6" text-anchor="start" >(b-2) After controlled release NCs</text>
<text x="510.0" y="2969.2" font-size="72" text-anchor="start" >in pH 4</text>
<text x="347.0" y="3286.4" font-size="72.4" text-anchor="start" >(b-3) Drug loaded NCs</text>
<text x="563.0" y="2733.5" font-size="53.4" text-anchor="start" >OH and NH</text>
<text x="1519.5" y="2405.0" font-size="61" text-anchor="start" >C=O&#8211;C</text>
<text x="1340.0" y="2571.5" font-size="61" text-anchor="word-spacing="3"" >C&#8211;O (ester bond)</text>
<text x="1702.0" y="2695.6" font-size="61" text-anchor="start" >C&#8211;O&#8211;C</text>
<text x="1306.0" y="3404.2" font-size="61" text-anchor="start" >C=O</text>
<text x="1458.5" y="3445.0" font-size="61" text-anchor="start" >C=O&#8211;C</text>
<text x="1406.0" y="3526.3" font-size="61" text-anchor="start" >(C&#8211;O)&#8211;C&#8211;OH</text>
<text x="1399.2" y="3639.8" font-size="61" text-anchor="start" >C&#8211;O&#8211;C</text>
<text x="1815.5" y="3506.8" font-size="61" text-anchor="start" >Si&#8211;O</text>
<text x="1867.0" y="3613.7" font-size="61" text-anchor="start" >Si&#8211;O&#8211;Si</text>
<polygon points="1581.6,2348.0 1581.6,2314.5 1590.1,2314.5 1577.6,2288.5 1565.1,2314.5 1573.6,2314.5 1573.6,2348.0" fill="#000"/>
<polygon points="1681.0,2508.0 1712.1,2470.5 1718.6,2475.9 1725.6,2447.9 1699.4,2459.9 1705.9,2465.4 1674.8,2502.8" fill="#000"/>
<polygon points="1426.8,3354.2 1457.8,3316.6 1464.3,3322.0 1471.2,3294.0 1445.0,3306.1 1451.6,3311.5 1420.6,3349.2" fill="#000"/>
<polygon points="1571.8,3355.0 1571.8,3321.8 1580.3,3321.8 1567.8,3295.8 1555.3,3321.8 1563.8,3321.8 1563.8,3355.0" fill="#000"/>
<polygon points="1672.8,3448.3 1672.8,3403.0 1681.3,3403.0 1668.8,3377.0 1656.3,3403.0 1664.8,3403.0 1664.8,3448.3" fill="#000"/>
<polygon points="1834.2,3438.5 1834.2,3392.4 1842.7,3392.4 1830.2,3366.4 1817.7,3392.4 1826.2,3392.4 1826.2,3438.5" fill="#000"/>
<polygon points="1612.7,3625.1 1726.3,3652.7 1724.3,3661.0 1752.5,3655.0 1730.2,3636.7 1728.2,3645.0 1614.5,3617.3" fill="#000"/>
<polygon points="1848.6,3615.6 1821.4,3633.4 1816.7,3626.3 1801.8,3651.0 1830.4,3647.2 1825.7,3640.1 1853.0,3622.2" fill="#000"/>
</svg></body></html>
